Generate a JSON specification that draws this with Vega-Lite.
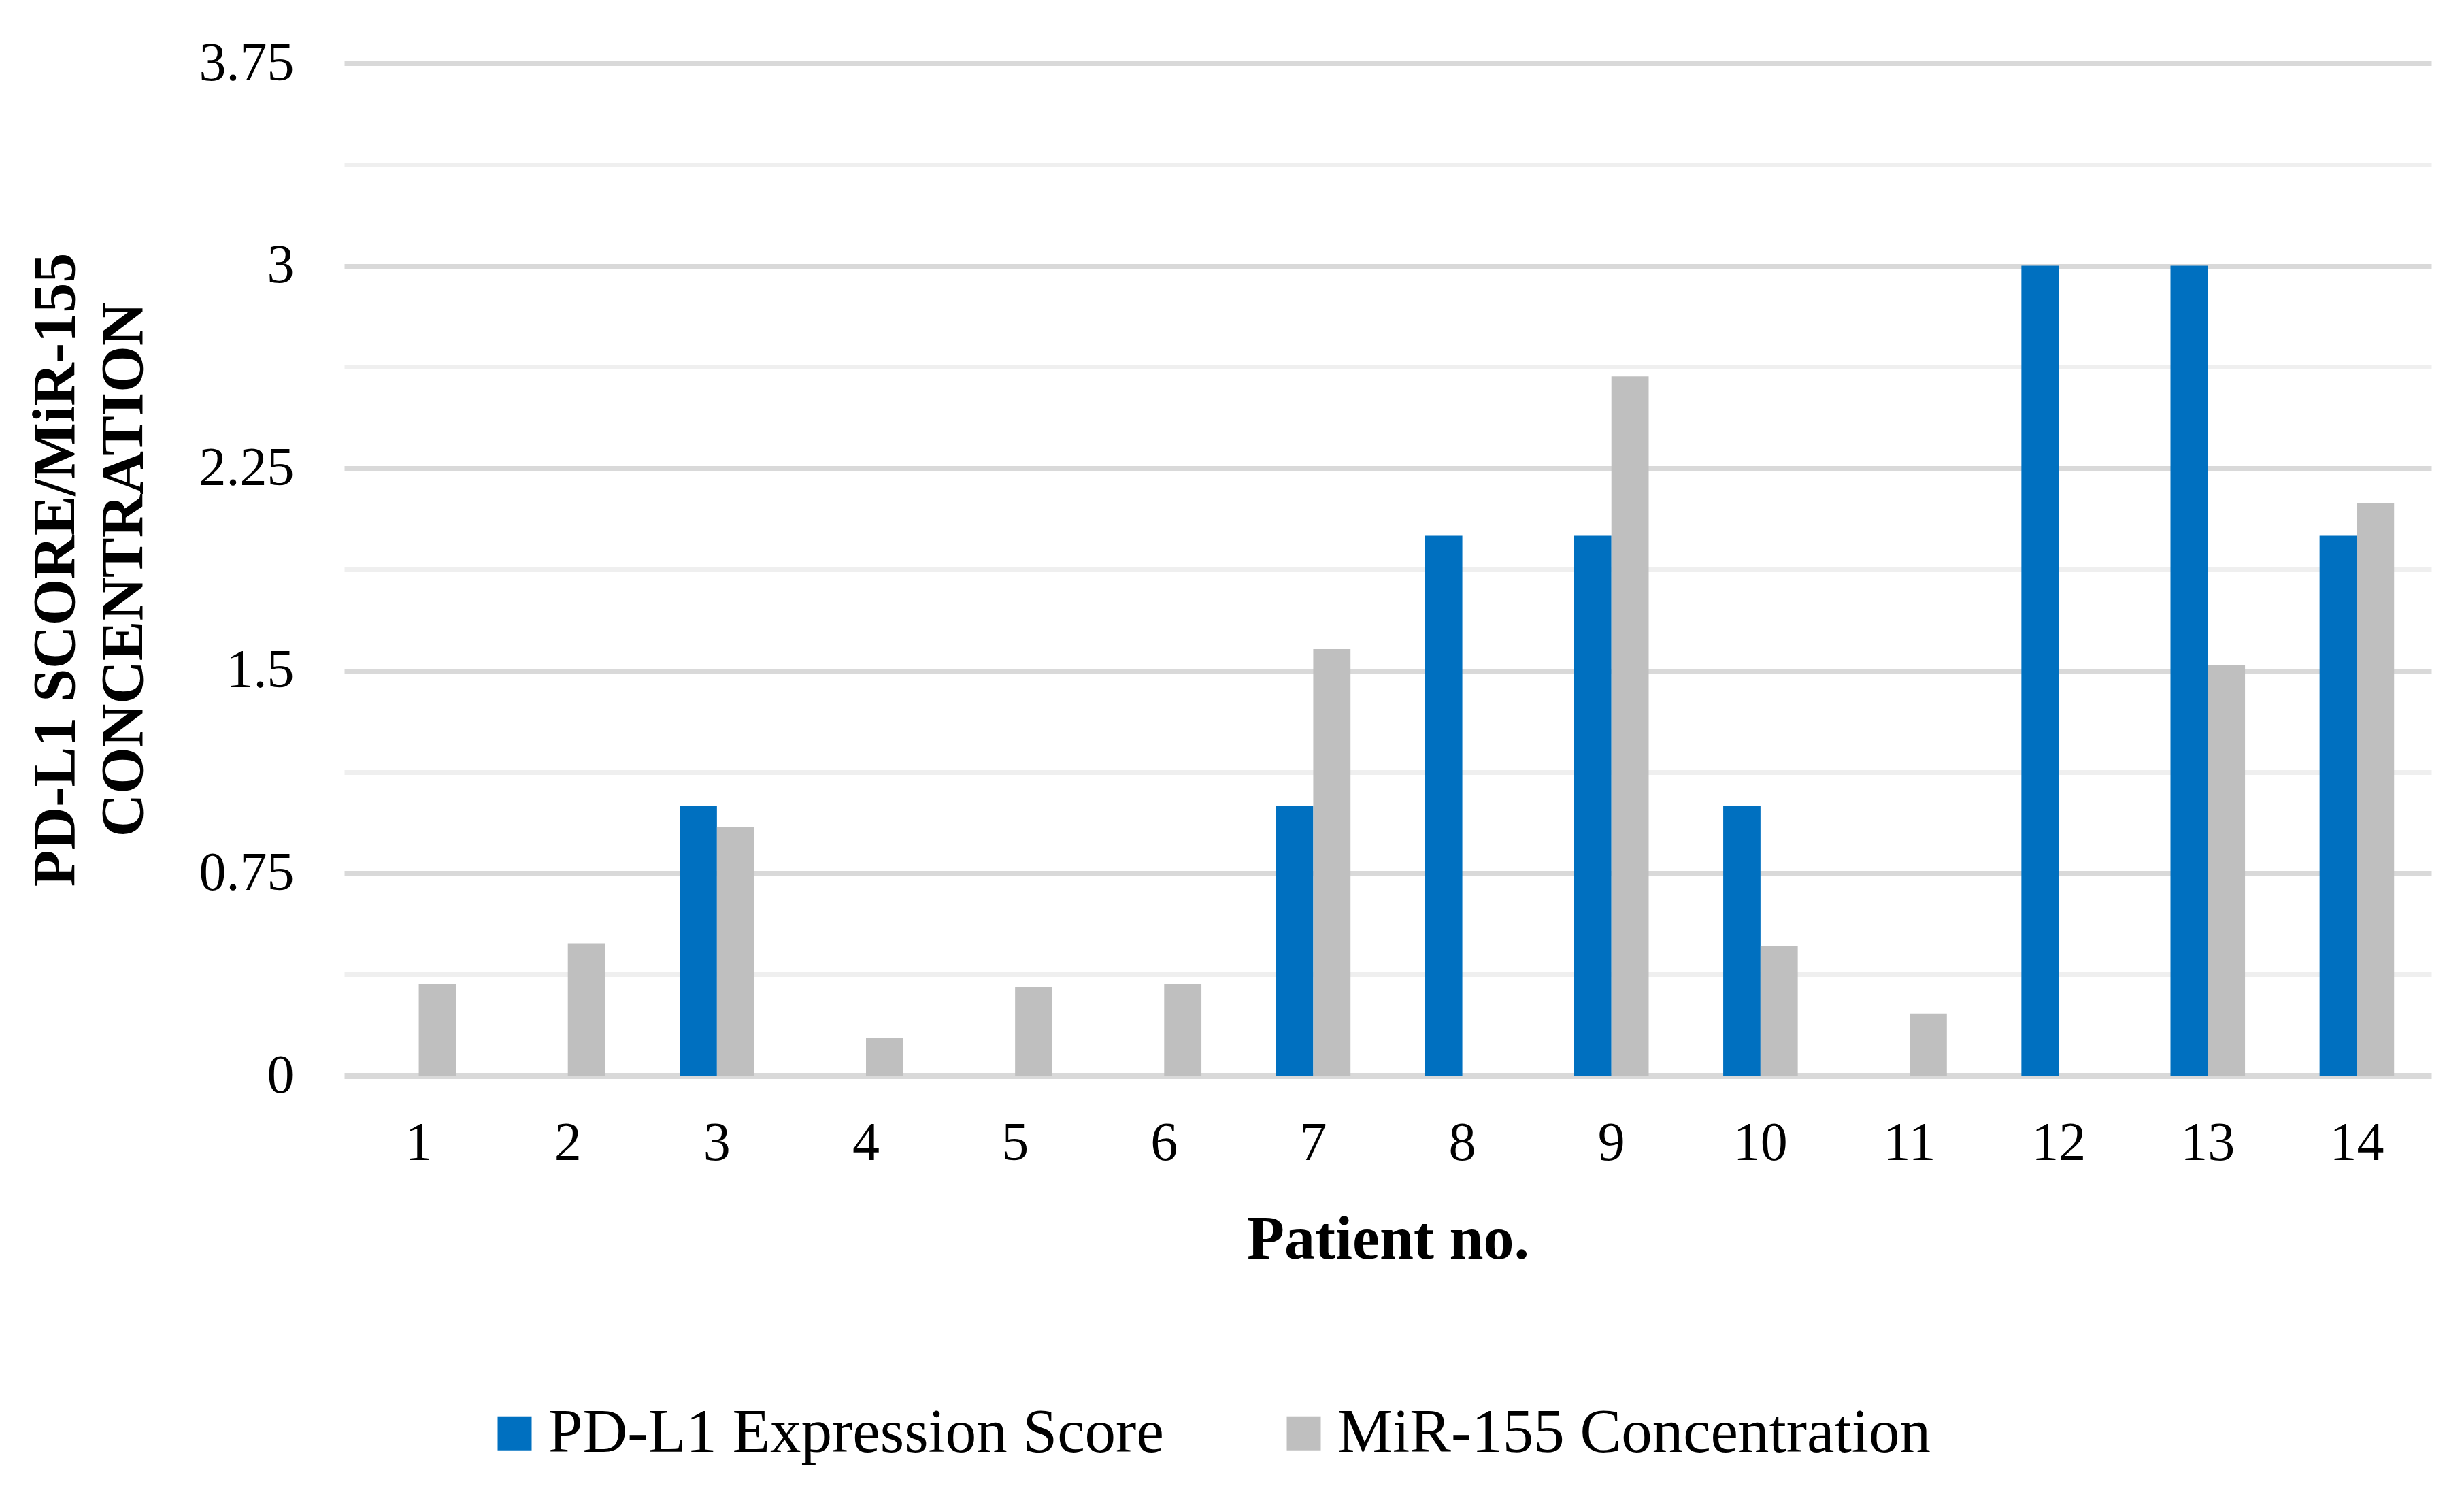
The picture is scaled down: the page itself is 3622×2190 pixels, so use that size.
{
  "$schema": "https://vega.github.io/schema/vega-lite/v6.json",
  "autosize": {"type": "none"},
  "width": 3068,
  "height": 1488,
  "padding": {"left": 506, "top": 93, "right": 48, "bottom": 609},
  "background": "white",
  "config": {
    "font": "Liberation Serif",
    "view": {"stroke": null}
  },
  "data": {
    "values": [
      {"patient": "1", "series": "PD-L1 Expression Score", "value": 0},
      {"patient": "2", "series": "PD-L1 Expression Score", "value": 0},
      {"patient": "3", "series": "PD-L1 Expression Score", "value": 1},
      {"patient": "4", "series": "PD-L1 Expression Score", "value": 0},
      {"patient": "5", "series": "PD-L1 Expression Score", "value": 0},
      {"patient": "6", "series": "PD-L1 Expression Score", "value": 0},
      {"patient": "7", "series": "PD-L1 Expression Score", "value": 1},
      {"patient": "8", "series": "PD-L1 Expression Score", "value": 2},
      {"patient": "9", "series": "PD-L1 Expression Score", "value": 2},
      {"patient": "10", "series": "PD-L1 Expression Score", "value": 1},
      {"patient": "11", "series": "PD-L1 Expression Score", "value": 0},
      {"patient": "12", "series": "PD-L1 Expression Score", "value": 3},
      {"patient": "13", "series": "PD-L1 Expression Score", "value": 3},
      {"patient": "14", "series": "PD-L1 Expression Score", "value": 2},
      {"patient": "1", "series": "MiR-155 Concentration", "value": 0.34},
      {"patient": "2", "series": "MiR-155 Concentration", "value": 0.49},
      {"patient": "3", "series": "MiR-155 Concentration", "value": 0.92},
      {"patient": "4", "series": "MiR-155 Concentration", "value": 0.14},
      {"patient": "5", "series": "MiR-155 Concentration", "value": 0.33},
      {"patient": "6", "series": "MiR-155 Concentration", "value": 0.34},
      {"patient": "7", "series": "MiR-155 Concentration", "value": 1.58},
      {"patient": "8", "series": "MiR-155 Concentration", "value": 0},
      {"patient": "9", "series": "MiR-155 Concentration", "value": 2.59},
      {"patient": "10", "series": "MiR-155 Concentration", "value": 0.48},
      {"patient": "11", "series": "MiR-155 Concentration", "value": 0.23},
      {"patient": "12", "series": "MiR-155 Concentration", "value": 0},
      {"patient": "13", "series": "MiR-155 Concentration", "value": 1.52},
      {"patient": "14", "series": "MiR-155 Concentration", "value": 2.12}
    ]
  },
  "mark": {"type": "bar"},
  "encoding": {
    "x": {
      "field": "patient",
      "type": "ordinal",
      "sort": ["1","2","3","4","5","6","7","8","9","10","11","12","13","14"],
      "scale": {"paddingInner": 0.5, "paddingOuter": 0.25},
      "axis": {
        "title": "Patient no.",
        "titleFont": "Liberation Serif",
        "titleFontSize": 90,
        "titleFontWeight": "bold",
        "titleColor": "#000000",
        "titlePadding": 58,
        "labelAngle": 0,
        "labelFontSize": 80,
        "labelColor": "#000000",
        "labelPadding": 60,
        "ticks": false,
        "domain": false,
        "grid": false
      }
    },
    "xOffset": {
      "field": "series",
      "type": "nominal",
      "sort": ["PD-L1 Expression Score", "MiR-155 Concentration"],
      "scale": {"paddingInner": 0, "paddingOuter": 0}
    },
    "y": {
      "field": "value",
      "type": "quantitative",
      "scale": {"domain": [0, 3.75], "nice": false},
      "axis": {
        "title": ["PD-L1 SCORE/MiR-155", "CONCENTRATION"],
        "titleFont": "Liberation Serif",
        "titleFontSize": 88,
        "titleFontWeight": "bold",
        "titleColor": "#000000",
        "titleLineHeight": 100,
        "titlePadding": 80,
        "values": [0, 0.375, 0.75, 1.125, 1.5, 1.875, 2.25, 2.625, 3, 3.375, 3.75],
        "labelExpr": "datum.value % 0.75 === 0 ? format(datum.value, '~g') : ''",
        "labelFontSize": 80,
        "labelColor": "#000000",
        "labelPadding": 74,
        "ticks": false,
        "domain": false,
        "grid": true,
        "gridColor": {"condition": {"test": "datum.value % 0.75 === 0", "value": "#d9d9d9"}, "value": "#efefef"},
        "gridWidth": {"condition": {"test": "datum.value === 0", "value": 9}, "value": 7}
      }
    },
    "color": {
      "field": "series",
      "type": "nominal",
      "scale": {
        "domain": ["PD-L1 Expression Score", "MiR-155 Concentration"],
        "range": ["#0070C0", "#BFBFBF"]
      },
      "legend": {
        "title": null,
        "orient": "none",
        "direction": "horizontal",
        "legendX": 205,
        "legendY": 1968,
        "labelFont": "Liberation Serif",
        "labelFontSize": 91,
        "labelColor": "#000000",
        "symbolType": "square",
        "symbolSize": 2500,
        "symbolStrokeWidth": 0,
        "labelOffset": 4,
        "columnPadding": 160,
        "labelLimit": 2000
      }
    }
  }
}
